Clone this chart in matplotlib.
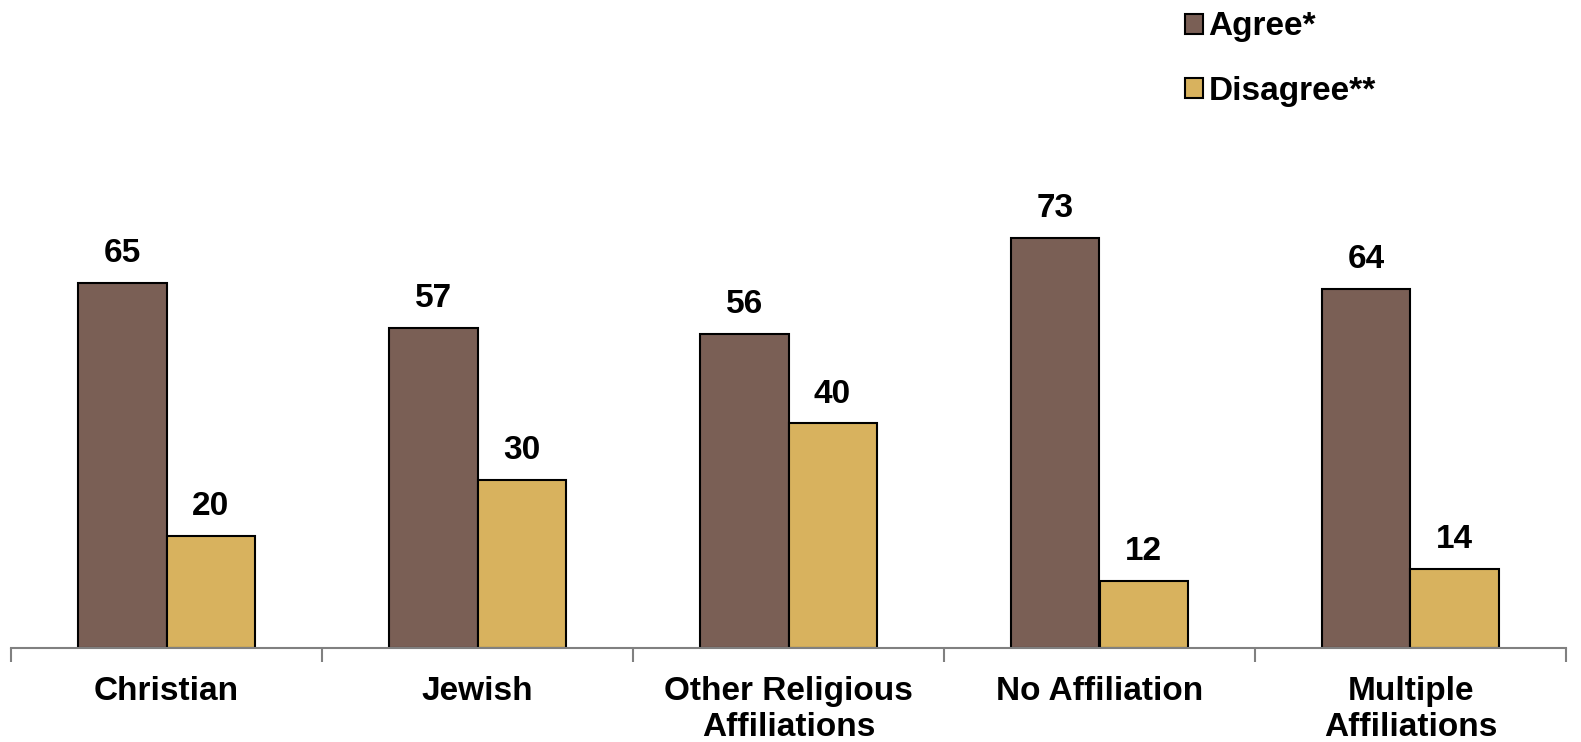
import numpy as np
import matplotlib
matplotlib.use("Agg")
from matplotlib import pyplot as plt
from matplotlib.patches import Patch

categories = ["Christian", "Jewish", "Other Religious\nAffiliations",
              "No Affiliation", "Multiple\nAffiliations"]
agree = [65, 57, 56, 73, 64]
disagree = [20, 30, 40, 12, 14]
series_names = ["Agree*", "Disagree**"]
colors = ["#7A5F55", "#D8B25E"]

plt.rcParams["font.family"] = ["Liberation Sans", "DejaVu Sans"]
plt.rcParams["font.weight"] = "bold"
fs = 24

fig = plt.figure(figsize=(15.81, 7.42), dpi=100)
ax = fig.add_axes([11 / 1581, 94 / 742, 1555 / 1581, 648 / 742])

x = np.arange(len(categories))
w = 0.283
for vals, off, col in [(agree, -w / 2, colors[0]), (disagree, w / 2, colors[1])]:
    bars = ax.bar(x + off, vals, width=w, color=col, edgecolor="black", linewidth=1.5)
    for b, v in zip(bars, vals):
        ax.annotate(str(v), (b.get_x() + b.get_width() / 2, v), xytext=(0, 10),
                    textcoords="offset points", ha="center", va="bottom",
                    fontsize=fs, fontweight="bold")

ax.set_xlim(-0.5, len(categories) - 0.5)
ax.set_ylim(0, 115.4)
for s in ["top", "right", "left"]:
    ax.spines[s].set_visible(False)
ax.spines["bottom"].set_color("#808080")
ax.spines["bottom"].set_linewidth(1.5)
ax.set_yticks([])
ax.set_xticks(x)
ax.set_xticklabels(categories, fontsize=fs, fontweight="bold", linespacing=1.2)
ax.tick_params(axis="x", which="major", length=0, pad=20)
ax.set_xticks(np.arange(-0.5, len(categories)), minor=True)
ax.tick_params(axis="x", which="minor", length=10, width=1.5, color="#808080")

handles = [Patch(facecolor=c, edgecolor="black", linewidth=1.5) for c in colors]
fig.legend(handles, series_names, loc="upper left", bbox_to_anchor=(1155 / 1581, 1.025),
           frameon=False, handlelength=0.55, handleheight=0.55,
           handletextpad=0.15, labelspacing=1.0, prop={"weight": "bold", "size": fs})

fig.savefig("out.png", dpi=100)
